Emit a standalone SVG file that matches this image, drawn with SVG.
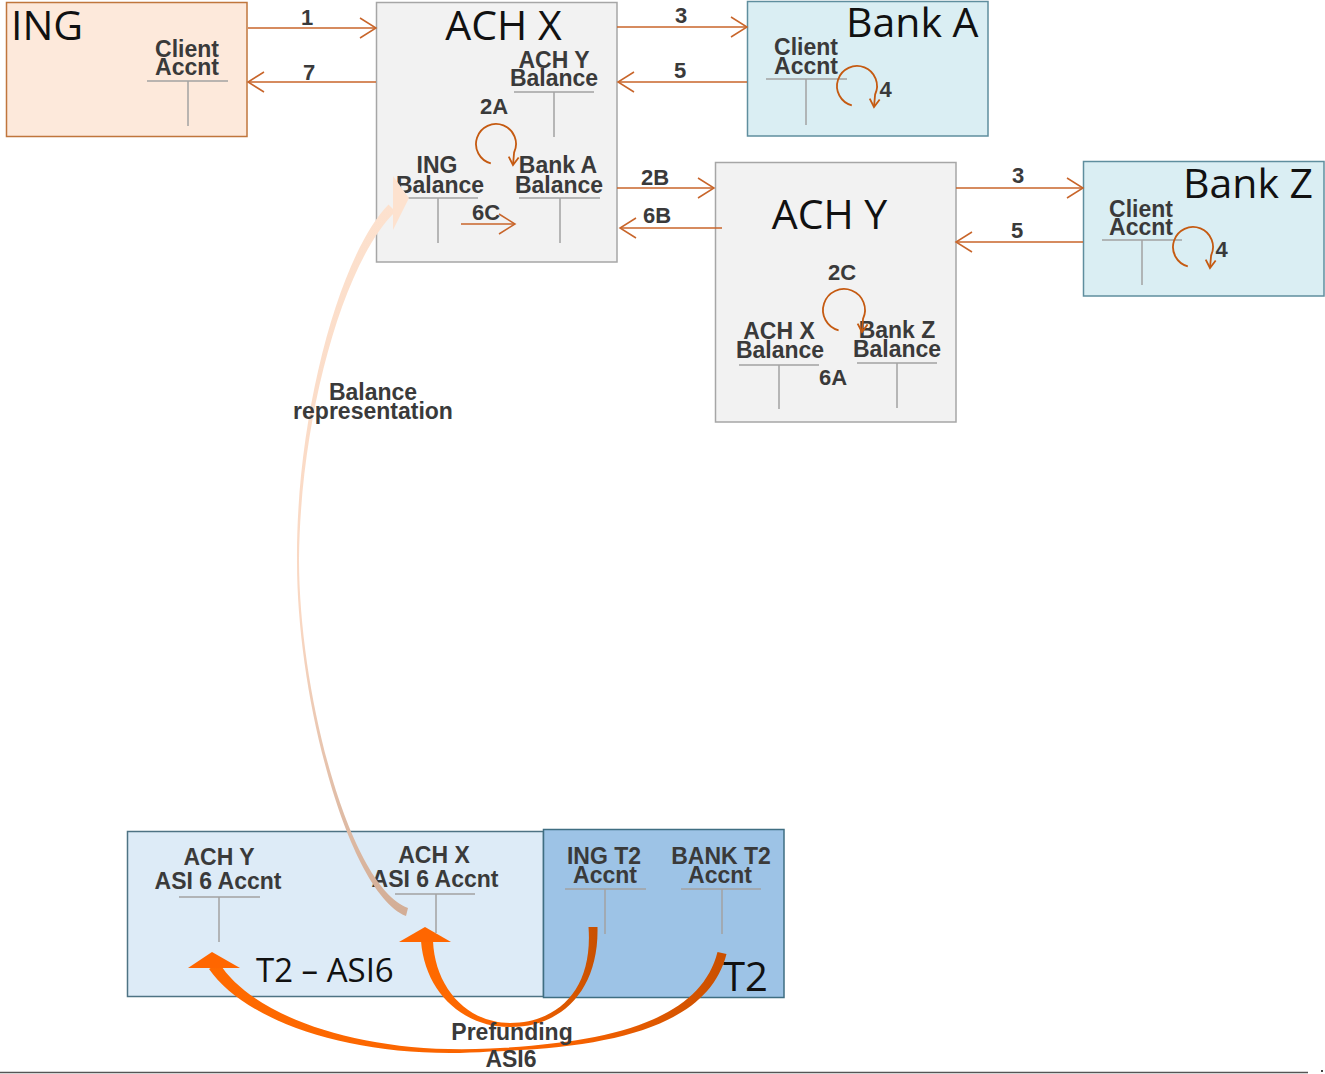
<svg xmlns="http://www.w3.org/2000/svg" width="1325" height="1074" viewBox="0 0 1325 1074">
<style>
.title{font-family:"Open Sans","Noto Sans",sans-serif;font-size:41px;fill:#111}
.lbl{font-family:"Liberation Sans",Arial,sans-serif;font-weight:bold;font-size:23px;fill:#3a3a3a;text-anchor:middle}
.num{font-family:"Liberation Sans",Arial,sans-serif;font-weight:bold;font-size:22px;fill:#3a3a3a;text-anchor:middle}
.tl{fill:none;stroke:#a3a3a3;stroke-width:1.5}
.conn{fill:none;stroke:#c8652a;stroke-width:1.5;marker-end:url(#open)}
.loop{fill:none;stroke:#c55a11;stroke-width:1.8;marker-end:url(#openS)}
.ach{fill:#f2f2f2;stroke:#a6a6a6;stroke-width:1.5}
.bank{fill:#daeef3;stroke:#5f8e9e;stroke-width:1.5}
</style>
<defs>
<marker id="open" markerUnits="userSpaceOnUse" markerWidth="20" markerHeight="24" refX="17" refY="11" orient="auto">
<path d="M1,1 L17,11 L1,21" fill="none" stroke="#c8652a" stroke-width="1.5"/>
</marker>
<marker id="openS" markerUnits="userSpaceOnUse" markerWidth="12" markerHeight="14" refX="9" refY="6" orient="auto">
<path d="M1,1 L9,6 L1,11" fill="none" stroke="#c55a11" stroke-width="1.8"/>
</marker>
<linearGradient id="gBal" gradientUnits="userSpaceOnUse" x1="0" y1="176" x2="0" y2="916">
<stop offset="0" stop-color="#fde2cf"/>
<stop offset="0.6" stop-color="#f9d7c2"/>
<stop offset="1" stop-color="#d2ad96"/>
</linearGradient>
<linearGradient id="gP1" gradientUnits="userSpaceOnUse" x1="420" y1="0" x2="600" y2="0">
<stop offset="0" stop-color="#ff6a00"/>
<stop offset="0.55" stop-color="#fa6400"/>
<stop offset="1" stop-color="#c64f00"/>
</linearGradient>
<linearGradient id="gP2" gradientUnits="userSpaceOnUse" x1="205" y1="0" x2="728" y2="0">
<stop offset="0" stop-color="#ff6a00"/>
<stop offset="0.7" stop-color="#f86200"/>
<stop offset="1" stop-color="#c94f00"/>
</linearGradient>
</defs>

<g id="ing">
<rect x="6.5" y="2.5" width="240.5" height="134" fill="#fde9db" stroke="#c0763c" stroke-width="1.5"/>
<text x="11" y="40" class="title">ING</text>
<text x="187" y="57" class="lbl">Client</text>
<text x="187" y="75" class="lbl">Accnt</text>
<path class="tl" d="M147,81 H228 M188,81 V126"/>
</g>

<g id="ach-x">
<rect x="376.5" y="2.5" width="240.5" height="259.5" class="ach"/>
<text x="503.5" y="40" class="title" text-anchor="middle">ACH X</text>
<text x="554" y="68" class="lbl">ACH Y</text>
<text x="554" y="86" class="lbl">Balance</text>
<path class="tl" d="M514,92 H594 M554,92 V137"/>
<text x="437" y="173" class="lbl">ING</text>
<text x="440" y="193" class="lbl">Balance</text>
<path class="tl" d="M397,198 H478 M438,198 V243"/>
<text x="558" y="173" class="lbl">Bank A</text>
<text x="559" y="193" class="lbl">Balance</text>
<path class="tl" d="M519,198 H600 M560,198 V243"/>
</g>

<g id="bank-a">
<rect x="747.5" y="1.5" width="240.5" height="134.5" class="bank"/>
<text x="846" y="37" class="title">Bank A</text>
<text x="806" y="55" class="lbl">Client</text>
<text x="806" y="74" class="lbl">Accnt</text>
<path class="tl" d="M766,79 H847 M806,79 V125"/>
</g>

<g id="ach-y">
<rect x="715.5" y="162.5" width="240.5" height="259.5" class="ach"/>
<text x="829.5" y="229" class="title" text-anchor="middle">ACH Y</text>
<text x="779" y="339" class="lbl">ACH X</text>
<text x="780" y="358" class="lbl">Balance</text>
<path class="tl" d="M739,365 H819 M779,365 V409"/>
<text x="897" y="338" class="lbl">Bank Z</text>
<text x="897" y="357" class="lbl">Balance</text>
<path class="tl" d="M857,363 H937 M897,363 V408"/>
<text x="833" y="385" class="num">6A</text>
</g>

<g id="bank-z">
<rect x="1083.5" y="161.5" width="240.5" height="134.5" class="bank"/>
<text x="1183" y="198" class="title">Bank Z</text>
<text x="1141" y="217" class="lbl">Client</text>
<text x="1141" y="235" class="lbl">Accnt</text>
<path class="tl" d="M1102,240 H1182 M1142,240 V285"/>
</g>

<g id="t2-asi6">
<rect x="127.5" y="831.5" width="416" height="165" fill="#ddebf7" stroke="#4e7384" stroke-width="1.5"/>
<text x="219" y="865" class="lbl">ACH Y</text>
<text x="218" y="889" class="lbl">ASI 6 Accnt</text>
<path class="tl" d="M179,897 H260 M219,897 V942"/>
<text x="434" y="863" class="lbl">ACH X</text>
<text x="435" y="887" class="lbl">ASI 6 Accnt</text>
<path class="tl" d="M395,894 H475 M436,894 V933"/>
<text x="256" y="982" class="title" style="font-size:33px">T2 – ASI6</text>
</g>

<g id="t2">
<rect x="543.5" y="829.5" width="240.5" height="168" fill="#9dc3e6" stroke="#3f6e82" stroke-width="1.5"/>
<text x="604" y="864" class="lbl">ING T2</text>
<text x="605" y="883" class="lbl">Accnt</text>
<path class="tl" d="M565,889 H646 M605,889 V934"/>
<text x="721" y="864" class="lbl">BANK T2</text>
<text x="720" y="883" class="lbl">Accnt</text>
<path class="tl" d="M681,889 H761 M722,889 V934"/>
<text x="723" y="991" class="title" style="font-size:40px">T2</text>
</g>

<g id="connectors">
<path class="conn" d="M248,28 H376"/>
<text x="307" y="25" class="num">1</text>
<path class="conn" d="M376,82 H248"/>
<text x="309" y="80" class="num">7</text>
<path class="conn" d="M617,27 H747"/>
<text x="681" y="23" class="num">3</text>
<path class="conn" d="M747,82 H618"/>
<text x="680" y="78" class="num">5</text>
<path class="conn" d="M617,188 H714"/>
<text x="655" y="185" class="num">2B</text>
<path class="conn" d="M722,228 H620"/>
<text x="657" y="223" class="num">6B</text>
<path class="conn" d="M461,224 H515"/>
<text x="486" y="220" class="num">6C</text>
<path class="conn" d="M956,188 H1083"/>
<text x="1018" y="183" class="num">3</text>
<path class="conn" d="M1083,242 H956"/>
<text x="1017" y="238" class="num">5</text>

<path class="loop" d="M490.8,163.3 A20,20 0 1 1 514.1,152.5 L513,165"/>
<text x="494" y="114" class="num">2A</text>
<path class="loop" d="M851.8,105.3 A20,20 0 1 1 875.1,94.5 L874,107"/>
<text x="885.5" y="97" class="num">4</text>
<path class="loop" d="M1187.8,266.3 A20,20 0 1 1 1211.1,255.5 L1210,268"/>
<text x="1221.5" y="257" class="num">4</text>
<path class="loop" d="M838.6,330.3 A21,21 0 1 1 863,318.9 L862,332"/>
<text x="842" y="280" class="num">2C</text>

<path fill="url(#gBal)" d="M406,916 C349,893 296.5,700 297,560 C296,420 337.5,257.5 388.5,204.5 L395.5,211.5 C342.5,262.5 300,420 299,560 C299.5,700 351,887 408,908 Z"/>
<polygon points="393,176 409,198 393,230" fill="#fde2cf"/>
<text x="373" y="400" class="lbl">Balance</text>
<text x="373" y="419" class="lbl">representation</text>

<path fill="url(#gP1)" d="M597.5,927 C599,992 560,1027.5 510,1027 C464,1027.5 425,993 421,941 L433,941 C435,987 466,1022.5 510,1023 C560,1022.5 593,988 588.5,927 Z"/>
<polygon points="425,927 451,942 399,942" fill="#ff6600"/>
<path fill="url(#gP2)" d="M726.5,954 C709,1023 621,1047.5 490,1051.5 C360,1061 247,1023.5 209,969 L219,962.7 C253,1016.5 360,1055 490,1048.5 C619,1042.5 701,1017 717.5,952 Z"/>
<polygon points="212,952 240,968 188,968" fill="#ff6600"/>
<text x="512" y="1040" class="lbl">Prefunding</text>
<text x="511" y="1067" class="lbl">ASI6</text>
</g>

<path d="M0,1072.5 H1308" stroke="#555" stroke-width="1.5"/>
<rect x="1321" y="1070" width="2" height="2" fill="#444"/>
</svg>
